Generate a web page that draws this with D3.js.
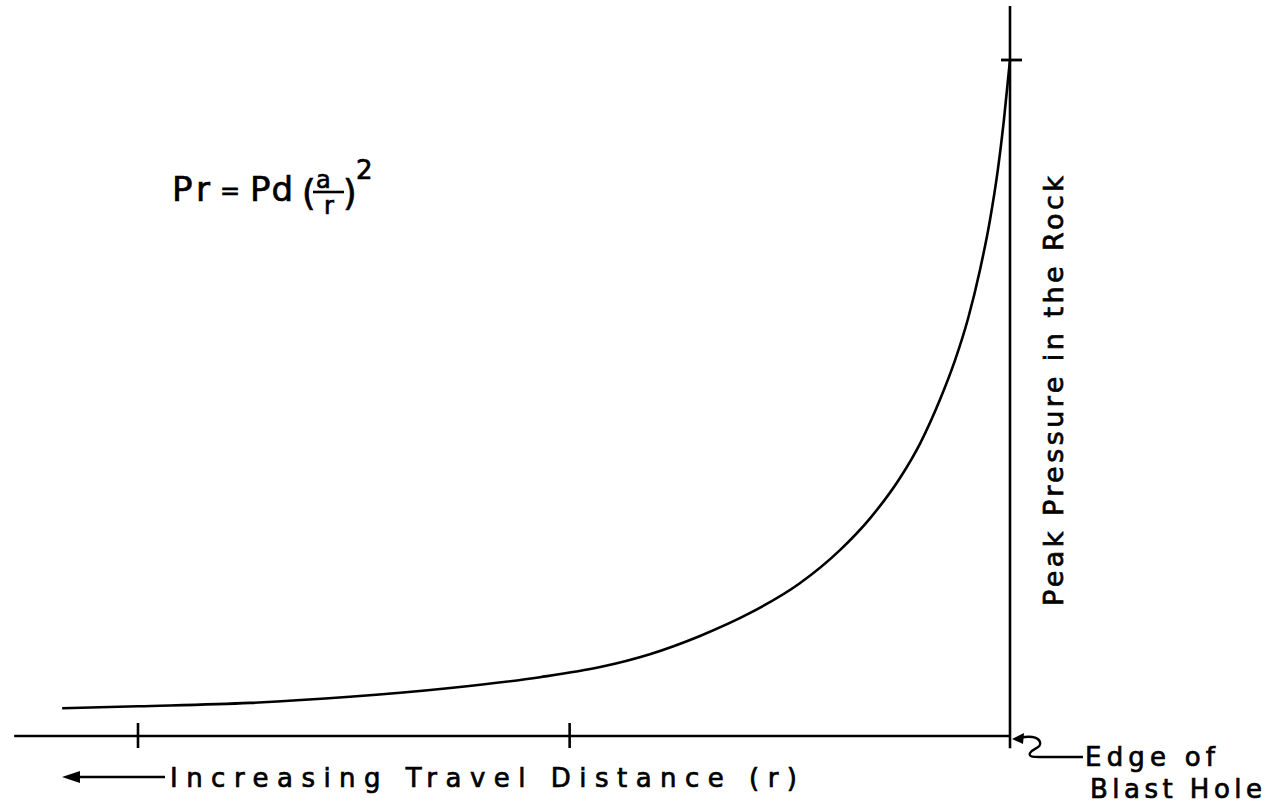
<!DOCTYPE html>
<html>
<head>
<meta charset="utf-8">
<script src="https://cdn.jsdelivr.net/npm/d3@7"></script>
<style>
  html, body { margin: 0; padding: 0; background: #fff; }
  svg { display: block; }
  text { font-family: "DejaVu Sans", "Liberation Sans", Arial, sans-serif; fill: #000; stroke: #000; stroke-width: 0.7px; }
</style>
</head>
<body>
<svg id="chart" width="1270" height="804"></svg>
<script>
// Distance from blast hole edge (r, arbitrary units, increasing to the left)
const distance = [2.174, 2.0, 1.743, 1.514, 1.284, 1.078, 0.940, 0.826, 0.711, 0.596, 0.482, 0.390, 0.321, 0.252, 0.206, 0.161, 0.126, 0.096, 0.069, 0.046, 0.028, 0.014, 0];
// Relative peak pressure in the rock (Pr / Pd)
const pressure = [0.041, 0.044, 0.049, 0.058, 0.071, 0.087, 0.102, 0.121, 0.148, 0.182, 0.226, 0.275, 0.322, 0.382, 0.433, 0.497, 0.556, 0.618, 0.689, 0.763, 0.837, 0.911, 1.0];
const xTicks = [2.0, 1.01];
const yTicks = [1.0];
const xLabel = "Increasing Travel Distance (r)";
const yLabel = "Peak Pressure in the Rock";
const edgeLabel = ["Edge of", "Blast Hole"];

const svg = d3.select("#chart");
const x = d3.scaleLinear().domain([0, 2]).range([1010, 138]);
const y = d3.scaleLinear().domain([0, 1]).range([736, 60]);

const ink = "#000";

// horizontal axis
svg.append("line")
  .attr("x1", x(2.284)).attr("x2", x(0))
  .attr("y1", y(0)).attr("y2", y(0))
  .attr("stroke", ink).attr("stroke-width", 2.6);
svg.selectAll(".xt").data(xTicks).join("line")
  .attr("x1", d => x(d)).attr("x2", d => x(d))
  .attr("y1", y(0) - 13).attr("y2", y(0) + 12)
  .attr("stroke", ink).attr("stroke-width", 2.6);

// vertical axis
svg.append("line")
  .attr("x1", x(0)).attr("x2", x(0))
  .attr("y1", y(1.08)).attr("y2", y(-0.018))
  .attr("stroke", ink).attr("stroke-width", 2.6);
svg.selectAll(".yt").data(yTicks).join("line")
  .attr("x1", x(0) - 9).attr("x2", x(0) + 12)
  .attr("y1", d => y(d)).attr("y2", d => y(d))
  .attr("stroke", ink).attr("stroke-width", 2.8);

// curve
const pts = distance.map((d, i) => [d, pressure[i]]);
const line = d3.line().x(d => x(d[0])).y(d => y(d[1])).curve(d3.curveMonotoneX);
svg.append("path").attr("d", line(pts))
  .attr("fill", "none").attr("stroke", ink).attr("stroke-width", 2.6);

// formula
const f = svg.append("g").attr("font-size", 34);
f.append("text").attr("x", 172).attr("y", 201).attr("letter-spacing", 4).text("Pr");
f.append("text").attr("x", 220).attr("y", 199).attr("font-size", 24).text("=");
f.append("text").attr("x", 250).attr("y", 201).attr("letter-spacing", 1).text("Pd");
f.append("text").attr("x", 302).attr("y", 205).attr("font-size", 35).text("(");
f.append("text").attr("x", 316).attr("y", 188).attr("font-size", 24).text("a");
f.append("line").attr("x1", 313).attr("x2", 344).attr("y1", 192).attr("y2", 192)
  .attr("stroke", ink).attr("stroke-width", 2.6);
f.append("text").attr("x", 324).attr("y", 214).attr("font-size", 24).text("r");
f.append("text").attr("x", 343).attr("y", 205).attr("font-size", 35).text(")");
f.append("text").attr("x", 356).attr("y", 179).attr("font-size", 26).text("2");

// x label with arrow
svg.append("text").attr("x", 170).attr("y", 787)
  .attr("font-size", 26)
  .attr("textLength", 627).attr("lengthAdjust", "spacing")
  .text(xLabel);
svg.append("line").attr("x1", 72).attr("x2", 165).attr("y1", 777).attr("y2", 777)
  .attr("stroke", ink).attr("stroke-width", 2.6);
svg.append("path").attr("d", "M62,777 L80,771 L80,783 Z").attr("fill", ink);

// y label
svg.append("text")
  .attr("transform", "translate(1063,606) rotate(-90)")
  .attr("font-size", 27)
  .attr("textLength", 430).attr("lengthAdjust", "spacing")
  .text(yLabel);

// edge label + connector
svg.append("text").attr("x", 1085).attr("y", 766).attr("font-size", 26)
  .attr("textLength", 130).attr("lengthAdjust", "spacing").text(edgeLabel[0]);
svg.append("text").attr("x", 1090).attr("y", 798).attr("font-size", 26)
  .attr("textLength", 172).attr("lengthAdjust", "spacing").text(edgeLabel[1]);
svg.append("path")
  .attr("d", "M1083,757 L1046,757 C1036,757 1028,758 1030,753 C1033,748 1042,748 1040,742 C1038,736 1028,736 1020,738")
  .attr("fill", "none").attr("stroke", ink).attr("stroke-width", 2.4);
svg.append("path").attr("d", "M1012,739 L1024,733 L1023,744 Z").attr("fill", ink);
</script>
</body>
</html>
